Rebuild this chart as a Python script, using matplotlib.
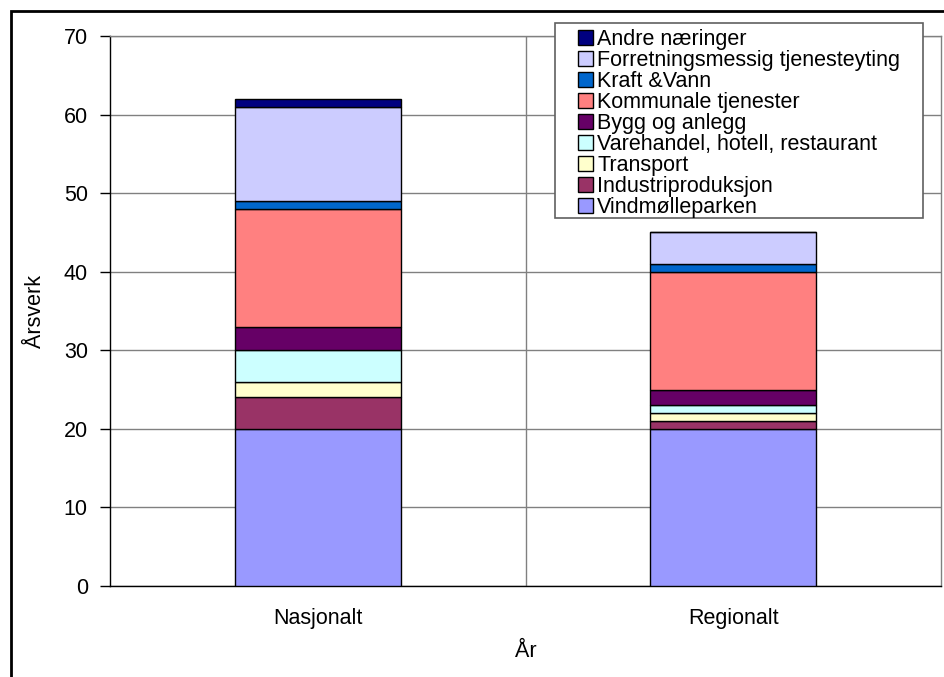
import matplotlib
matplotlib.use("Agg")
import matplotlib.pyplot as plt
from matplotlib.patches import Rectangle
import numpy as np

plt.rcParams['font.family'] = ['Liberation Sans', 'DejaVu Sans']

categories = ["Nasjonalt", "Regionalt"]
series_names = [
    "Vindmølleparken",
    "Industriproduksjon",
    "Transport",
    "Varehandel, hotell, restaurant",
    "Bygg og anlegg",
    "Kommunale tjenester",
    "Kraft &Vann",
    "Forretningsmessig tjenesteyting",
    "Andre næringer",
]
vindmolleparken = [20, 20]
industriproduksjon = [4, 1]
transport = [2, 1]
varehandel = [4, 1]
bygg_og_anlegg = [3, 2]
kommunale = [15, 15]
kraft_vann = [1, 1]
forretning = [12, 4]
andre = [1, 0]
series_values = [vindmolleparken, industriproduksjon, transport, varehandel,
                 bygg_og_anlegg, kommunale, kraft_vann, forretning, andre]
colors = ["#9999FF", "#993366", "#FFFFCC", "#CCFFFF", "#660066",
          "#FF8080", "#0066CC", "#CCCCFF", "#000080"]

FS = 15.5
W, H = 944, 677
fig = plt.figure(figsize=(W / 100, H / 100), dpi=100)
ax = fig.add_axes([110 / W, (H - 586) / H, (941 - 110) / W, (586 - 36) / H])

x = np.arange(len(categories))
bottom = np.zeros(len(categories))
for name, vals, col in zip(series_names, series_values, colors):
    vals = np.array(vals, dtype=float)
    ax.bar(x, vals, width=0.4, bottom=bottom, color=col, edgecolor="black",
           linewidth=1.0, label=name, zorder=3)
    bottom += vals

ax.set_xlim(-0.5, 1.5)
ax.set_ylim(0, 70)
ax.set_yticks(range(0, 71, 10))
ax.set_xticks(x)
ax.set_xticklabels(categories)
ax.yaxis.grid(True, color="#808080", linewidth=1.0, zorder=0)
ax.axvline(0.5, color="#808080", linewidth=1.0, zorder=0)
ax.set_axisbelow(True)

for side in ["top", "right"]:
    ax.spines[side].set_color("#808080")
    ax.spines[side].set_linewidth(1.0)
for side in ["left", "bottom"]:
    ax.spines[side].set_color("black")
    ax.spines[side].set_linewidth(1.0)

ax.tick_params(axis="y", length=7, width=1, labelsize=FS, pad=9)
ax.tick_params(axis="x", length=0, labelsize=FS, pad=15.5)
ax.set_ylabel("Årsverk", fontsize=FS, labelpad=13)
ax.set_xlabel("År", fontsize=FS, labelpad=9)

# Legend box
ax.add_patch(Rectangle((555 / W, 1 - 218 / H), (923 - 555) / W, (218 - 23) / H,
                       transform=fig.transFigure, facecolor="white",
                       edgecolor="#606060", linewidth=1.2, clip_on=False,
                       zorder=4))

handles, labels = ax.get_legend_handles_labels()
leg = ax.legend(handles[::-1], labels[::-1], loc="upper left",
                bbox_to_anchor=(578 / W, 1 - 29 / H),
                bbox_transform=fig.transFigure,
                fontsize=FS, frameon=False,
                handlelength=0.7, handleheight=0.7,
                handletextpad=0.2, labelspacing=0.0, borderpad=0,
                borderaxespad=0)
leg.set_zorder(5)

# Chart-area frame
fig.patches.append(Rectangle((11 / W, -0.05), 1.1, 1 - 11 / H + 0.05,
                             transform=fig.transFigure, fill=False,
                             edgecolor="black", linewidth=2))

fig.savefig("out.png", dpi=100)
